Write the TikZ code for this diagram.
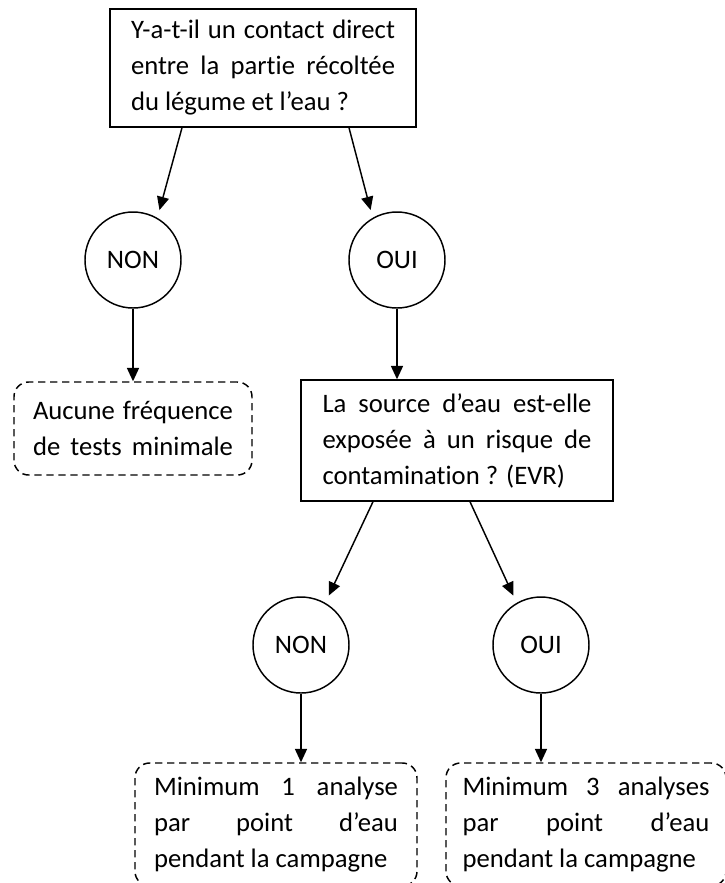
\documentclass[tikz,border=0pt]{standalone}
\usepackage{fontspec}
\setmainfont{Carlito}[Ligatures=NoCommon]
\usetikzlibrary{arrows.meta}

\begin{document}
\begin{tikzpicture}[x=0.75pt, y=-0.75pt, line width=1.1pt,
    >={Triangle[length=10pt,width=9pt]},
    every node/.style={font=\fontsize{20pt}{27pt}\selectfont, inner sep=0pt},
    question/.style={draw, rectangle, align=justify},
    answer/.style={draw, circle, minimum size=72pt},
    result/.style={draw, dashed, dash pattern=on 5.5pt off 3.5pt, rounded corners=11pt, align=justify}]
    \useasboundingbox (0, 0) rectangle (725, 883);

    \begin{scope}
        \node[question, minimum width=229.5pt, minimum height=88.5pt, text width=198pt] (Q_1) at (263, 68)
            {Y-a-t-il un contact direct\linebreak entre la partie récoltée\linebreak du légume et l’eau~?};
        \node[question, minimum width=234pt, minimum height=90.75pt, text width=201.75pt] (Q_2) at (457, 440.5)
            {La source d’eau est-elle\linebreak exposée à un risque de\linebreak contamination ? (EVR)};
    \end{scope}

    \begin{scope}[every node/.append style={answer}]
        \node (N_1) at (133, 260) {NON};
        \node (O_1) at (397, 260) {OUI};
        \node (N_2) at (301, 645) {NON};
        \node (O_2) at (541, 645) {OUI};
    \end{scope}

    \begin{scope}[every node/.append style={result}]
        \node[minimum width=178.5pt, minimum height=69.75pt, text width=150pt] (A_1) at (133, 428.5)
            {Aucune fréquence\linebreak de\hfill tests\hfill minimale};
        \node[minimum width=211.5pt, minimum height=92.25pt, text width=183pt] (R_1) at (276, 824.5)
            {Minimum 1 analyse\linebreak par point d’eau\linebreak pendant la campagne};
        \node[minimum width=210pt, minimum height=92.25pt, text width=185.25pt] (R_2) at (586, 824.5)
            {Minimum 3 analyses\linebreak par point d’eau\linebreak pendant la campagne};
    \end{scope}

    \begin{scope}[every edge/.style={draw=black}, shorten >=6pt]
        \path[->] ([xshift=-60.75pt]Q_1.south) edge (N_1.60);
        \path[->] ([xshift=64.5pt]Q_1.south) edge (O_1.120);
        \path[->] ([xshift=-63pt]Q_2.south) edge (N_2.60);
        \path[->] ([xshift=9.75pt]Q_2.south) edge (O_2.120);
    \end{scope}

    \begin{scope}[every edge/.style={draw=black}]
        \path[->] (N_1) edge (A_1);
        \path[->] (O_1) edge (O_1 |- Q_2.north);
        \path[->] (N_2) edge (N_2 |- R_1.north);
        \path[->] (O_2) edge (O_2 |- R_2.north);
    \end{scope}
\end{tikzpicture}
\end{document}
